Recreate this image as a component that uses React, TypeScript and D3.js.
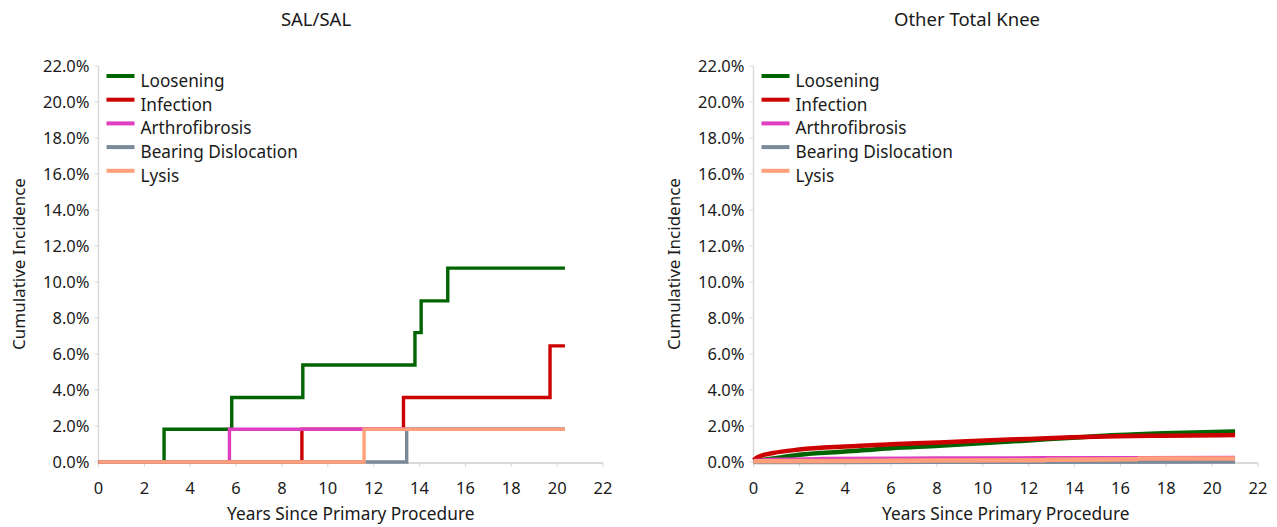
import React from "react";
import * as d3 from "d3";

type Pt = [number, number];

const seriesNames = ["Loosening", "Infection", "Arthrofibrosis", "Bearing Dislocation", "Lysis"];
const seriesColors = ["#006400", "#cc0000", "#dd3fc0", "#7b8a9b", "#ffa07a"];

const xTicks = [0, 2, 4, 6, 8, 10, 12, 14, 16, 18, 20, 22];
const yTicks = [0, 2, 4, 6, 8, 10, 12, 14, 16, 18, 20, 22];

// SAL/SAL (step functions, % cumulative incidence)
const salLoosening: Pt[] = [[0, 0], [2.86, 1.82], [5.81, 3.58], [8.91, 5.39], [13.8, 7.19], [14.07, 8.95], [15.23, 10.77], [20.34, 10.77]];
const salInfection: Pt[] = [[0, 0], [8.87, 1.82], [13.3, 3.58], [19.69, 6.45], [20.34, 6.45]];
const salArthrofibrosis: Pt[] = [[0, 0], [5.71, 1.82], [20.34, 1.82]];
const salBearing: Pt[] = [[0, 0], [13.44, 1.82], [20.34, 1.82]];
const salLysis: Pt[] = [[0, 0], [11.58, 1.82], [20.34, 1.82]];

// Other Total Knee
const otherLoosening: Pt[] = [[0, 0.05], [0.86, 0.2], [2, 0.4], [4, 0.58], [6, 0.77], [8.1, 0.9], [10.1, 1.05], [12, 1.2], [13.9, 1.35], [15.9, 1.5], [17.9, 1.6], [21, 1.7]];
const otherInfection: Pt[] = [[0, 0.1], [0.2, 0.28], [0.86, 0.5], [2, 0.69], [4, 0.86], [6, 0.98], [8.1, 1.09], [10.1, 1.2], [12, 1.28], [13.9, 1.37], [15.9, 1.43], [17.9, 1.46], [21, 1.5]];
const otherArthrofibrosis: Pt[] = [[0, 0.05], [1, 0.12], [3, 0.16], [8, 0.19], [16.7, 0.21], [21, 0.22]];
const otherBearing: Pt[] = [[0, 0], [8, 0.01], [21, 0.03]];
const otherLysis: Pt[] = [[0, 0.04], [4, 0.06], [8, 0.08], [12.7, 0.1], [12.8, 0.13], [16.7, 0.15], [16.8, 0.19], [21, 0.2]];

const FONT = "'Segoe UI', 'Noto Sans', 'Open Sans', sans-serif";
const AXIS = "#d9d9d9";
const TEXT = "#1a1a1a";

interface PanelProps {
  title: string;
  titleX: number;
  x0: number;
  data: Pt[][];
  step: boolean;
  strokeW: number;
}

function Panel({ title, titleX, x0, data, step, strokeW }: PanelProps) {
  const x = d3.scaleLinear().domain([0, 22]).range([x0, x0 + 504.5]);
  const y = d3.scaleLinear().domain([0, 22]).range([462, 66]);
  const line = d3
    .line<Pt>()
    .x((d) => x(d[0]))
    .y((d) => y(d[1]))
    .curve(step ? d3.curveStepAfter : d3.curveMonotoneX);
  const cx = (x(0) + x(22)) / 2;
  const cy = (y(0) + y(22)) / 2;
  return (
    <g fontFamily={FONT} fill={TEXT}>
      <text x={titleX} y={26} fontSize={18.5} textAnchor="middle">{title}</text>
      {/* y axis */}
      <line x1={x(0)} x2={x(0)} y1={y(22)} y2={y(0)} stroke={AXIS} strokeWidth={1.5} />
      {yTicks.map((t) => (
        <g key={"y" + t}>
          <line x1={x(0) - 4} x2={x(0)} y1={y(t)} y2={y(t)} stroke={AXIS} strokeWidth={1} />
          <text x={x(0) - 9} y={y(t) + 5.5} fontSize={16.5} textAnchor="end">{t.toFixed(1) + "%"}</text>
        </g>
      ))}
      {/* x axis */}
      <line x1={x(0)} x2={x(22)} y1={y(0) + 1} y2={y(0) + 1} stroke={AXIS} strokeWidth={2} />
      {xTicks.map((t) => (
        <g key={"x" + t}>
          <line x1={x(t)} x2={x(t)} y1={y(0) + 1} y2={y(0) + 5} stroke={AXIS} strokeWidth={1} />
          <text x={x(t)} y={494} fontSize={16.5} textAnchor="middle">{t}</text>
        </g>
      ))}
      <text x={cx} y={520} fontSize={17.3} textAnchor="middle">Years Since Primary Procedure</text>
      <text transform={`translate(${x0 - 74},${cy}) rotate(-90)`} fontSize={17} textAnchor="middle">Cumulative Incidence</text>
      {/* series */}
      {data.map((d, i) => (
        <path key={"s" + i} d={line(d) || ""} fill="none" stroke={seriesColors[i]} strokeWidth={strokeW} strokeLinejoin="miter" />
      ))}
      {/* legend */}
      {seriesNames.map((n, i) => {
        const ly = 76 + i * 23.7;
        return (
          <g key={"l" + i}>
            <line x1={x0 + 8} x2={x0 + 36} y1={ly} y2={ly} stroke={seriesColors[i]} strokeWidth={4} />
            <text x={x0 + 42} y={ly + 11} fontSize={17.2}>{n}</text>
          </g>
        );
      })}
    </g>
  );
}

export default function App() {
  return (
    <svg width={1277} height={527} style={{ position: "absolute", left: 0, top: 0, background: "#fff" }}>
      <rect width={1277} height={527} fill="#fff" />
      <Panel
        title="SAL/SAL"
        titleX={316}
        x0={98.5}
        data={[salLoosening, salInfection, salArthrofibrosis, salBearing, salLysis]}
        step={true}
        strokeW={3.4}
      />
      <Panel
        title="Other Total Knee"
        titleX={967}
        x0={753.5}
        data={[otherLoosening, otherInfection, otherArthrofibrosis, otherBearing, otherLysis]}
        step={false}
        strokeW={4.5}
      />
    </svg>
  );
}
